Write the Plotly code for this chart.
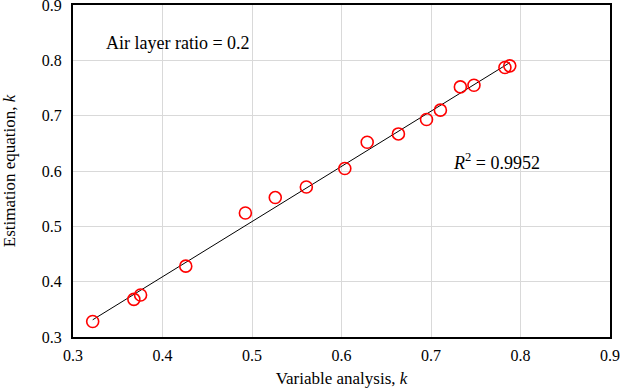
import numpy as np
import plotly.graph_objects as go

variable_analysis = [0.322, 0.368, 0.3755, 0.426, 0.4926, 0.526, 0.5607, 0.6037, 0.6287,
                     0.6636, 0.695, 0.7105, 0.7328, 0.748, 0.7826, 0.788]
estimation_equation = [0.328, 0.368, 0.376, 0.428, 0.524, 0.552, 0.571, 0.6045, 0.652,
                       0.667, 0.693, 0.710, 0.752, 0.755, 0.787, 0.790]
tick_values = [0.3, 0.4, 0.5, 0.6, 0.7, 0.8, 0.9]
tick_labels = ["0.3", "0.4", "0.5", "0.6", "0.7", "0.8", "0.9"]

xa = np.array(variable_analysis)
ya = np.array(estimation_equation)
slope, intercept = np.polyfit(xa, ya, 1)
line_x = [xa.min(), xa.max()]
line_y = [slope * v + intercept for v in line_x]

FONT = "Liberation Serif, Times New Roman, serif"

fig = go.Figure()
fig.add_trace(go.Scatter(x=line_x, y=line_y, mode="lines",
                         line=dict(color="black", width=1), showlegend=False,
                         hoverinfo="skip"))
fig.add_trace(go.Scatter(x=variable_analysis, y=estimation_equation, mode="markers",
                         marker=dict(symbol="circle-open", size=12, color="#ff0000",
                                     line=dict(width=1.6, color="#ff0000")),
                         showlegend=False))

fig.add_annotation(x=0.335, y=0.832, xref="x", yref="y", text="Air layer ratio = 0.2",
                   showarrow=False, xanchor="left", yanchor="middle",
                   font=dict(family=FONT, size=18, color="black"))
fig.add_annotation(x=0.773, y=0.617, xref="x", yref="y",
                   text="<i>R</i><sup>2</sup> = 0.9952",
                   showarrow=False, xanchor="center", yanchor="middle",
                   font=dict(family=FONT, size=18, color="black"))

axis_common = dict(range=[0.3, 0.9], tickvals=tick_values, ticktext=tick_labels,
                   showgrid=True, gridcolor="#d9d9d9", gridwidth=1,
                   showline=True, linecolor="black", linewidth=2, mirror=True,
                   ticks="", zeroline=False, automargin=False,
                   ticklabeloverflow="allow",
                   tickfont=dict(family=FONT, size=16, color="black"))

fig.update_xaxes(**axis_common, ticklabelstandoff=3,
                 title=dict(text="Variable analysis, <i>k</i>",
                            font=dict(family=FONT, size=17, color="black"), standoff=9))
fig.update_yaxes(**axis_common, ticklabelstandoff=6,
                 title=dict(text="Estimation equation, <i>k</i>",
                            font=dict(family=FONT, size=17, color="black"), standoff=24))

fig.update_layout(width=623, height=392, plot_bgcolor="white", paper_bgcolor="white",
                  margin=dict(l=73, r=13, t=5, b=55),
                  font=dict(family=FONT, color="black"))

fig.write_html("out.html", config={"displayModeBar": False},
               post_script="document.body.style.margin='0';document.body.style.overflow='hidden';")
